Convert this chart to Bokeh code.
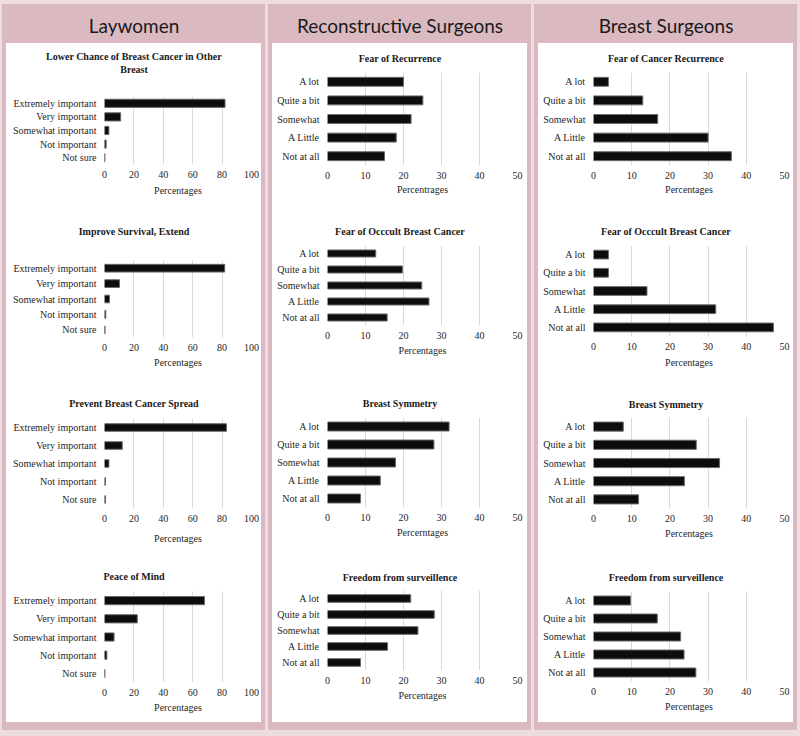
from bokeh.plotting import figure
from bokeh.layouts import row, column
from bokeh.models import FactorRange, Range1d, FixedTicker, Spacer, Title
from bokeh.embed import file_html
from bokeh.resources import INLINE

# ---------------- data ----------------
group_names = ["Laywomen", "Reconstructive Surgeons", "Breast Surgeons"]

lay_cats = ["Extremely important", "Very important", "Somewhat important", "Not important", "Not sure"]
surg_cats = ["A lot", "Quite a bit", "Somewhat", "A Little", "Not at all"]

lay_titles = ["Lower Chance of Breast Cancer in Other\nBreast", "Improve Survival, Extend",
              "Prevent Breast Cancer Spread", "Peace of Mind"]
rec_titles = ["Fear of Recurrence", "Fear of Occcult Breast Cancer", "Breast Symmetry",
              "Freedom from surveillence"]
bre_titles = ["Fear of Cancer Recurrence", "Fear of Occcult Breast Cancer", "Breast Symmetry",
              "Freedom from surveillence"]

lay_xlabels = ["Percentages", "Percentages", "Percentages", "Percentages"]
rec_xlabels = ["Percentrages", "Percentages", "Percerntages", "Percentages"]
bre_xlabels = ["Percentages", "Percentages", "Percentages", "Percentages"]

lay_lower_chance = [82, 11, 3, 1.1, 0.3]
lay_survival = [81.8, 10.2, 3.4, 0.9, 0.4]
lay_spread = [83, 12.1, 3, 0.7, 0.7]
lay_peace = [68, 22.3, 6.5, 1.6, 0.3]

rec_recurrence = [20, 25.1, 22, 18.1, 15]
rec_occult = [12.7, 19.7, 24.8, 26.7, 15.7]
rec_symmetry = [32, 28, 17.9, 13.9, 8.7]
rec_surveillance = [21.9, 28.1, 23.8, 15.8, 8.7]

bre_recurrence = [3.9, 12.9, 16.8, 30, 36.1]
bre_occult = [3.9, 3.9, 14, 32, 47.1]
bre_symmetry = [7.8, 26.9, 33, 23.8, 11.8]
bre_surveillance = [9.7, 16.7, 22.8, 23.7, 26.8]

lay_ticks = [0, 20, 40, 60, 80, 100]
surg_ticks = [0, 10, 20, 30, 40, 50]

# ---------------- styling / layout ----------------
PINK = "#dbb9c1"
LIGHT = "#eddde1"
BAR = "#0d0d0d"
BAR_EDGE = "#6a6a6a"
GRID = "#d9d9d9"
TXT = "#262626"
SERIF = "Liberation Serif"

TOP_PAD = 4
bounds = [43, 215, 388, 560, 722]   # panel boundaries (page px)
BOTTOM_PINK = 8
TOTAL_H = 736

frames = {
    0: [(96, 164), (260, 337), (418, 508), (591, 682)],
    1: [(72, 165), (245, 325), (417, 507), (590, 670)],
    2: [(72, 165), (245, 336), (417, 508), (591, 681)],
}
title_y = {
    0: [69, 231, 403, 576],
    1: [58, 231, 403, 577],
    2: [58, 231, 404, 577],
}
label_standoff = {0: [4, 3, 8, 3], 1: [2, 3, 3, 3], 2: [2, 4, 3, 3]}
bar_h = {0: [0.6, 0.5, 0.42, 0.45], 1: [0.48, 0.44, 0.5, 0.48], 2: [0.48, 0.48, 0.5, 0.5]}

COLW = 263
PAD = 4
FIGW = COLW - 2 * PAD
HEADER_H = bounds[0] - TOP_PAD


def no_align(fig):
    if "frame_align" in fig.properties():
        fig.frame_align = False
    return fig


def make_title_fig(text, height):
    t = figure(width=FIGW, height=height, x_range=Range1d(0, 1), y_range=Range1d(0, 1),
               output_backend="svg", toolbar_location=None, title_location=None,
               min_border_left=0, min_border_right=0, min_border_top=height - 1,
               min_border_bottom=0)
    no_align(t)
    t.axis.visible = False
    t.grid.visible = False
    t.outline_line_color = None
    t.background_fill_color = "white"
    t.border_fill_color = "white"
    for line in reversed(text.split("\n")):
        tt = Title(text=line, align="center", text_font=SERIF, text_font_size="10px",
                   text_font_style="bold", text_color="#1a1a1a")
        if "standoff" in tt.properties():
            tt.standoff = 0
        t.add_layout(tt, "above")
    return t


def make_panel(ci, pi, cats, vals, title, xlabel, xmax, ticks, ml, mr):
    top_b, bot_b = bounds[pi], bounds[pi + 1]
    ft, fb = frames[ci][pi]
    t_h = title_y[ci][pi] + 6 - top_b
    tfig = make_title_fig(title, t_h)
    h = bot_b - top_b - t_h
    mt = max(0, ft - (top_b + t_h))
    mb = bot_b - fb
    p = figure(width=FIGW, height=h, y_range=FactorRange(factors=cats[::-1]),
               x_range=Range1d(0, xmax), output_backend="svg", toolbar_location=None,
               title_location=None,
               min_border_left=ml, min_border_right=mr, min_border_top=mt, min_border_bottom=mb)
    no_align(p)
    p.hbar(y=cats, right=vals, height=bar_h[ci][pi], fill_color=BAR, line_color=BAR_EDGE,
           line_width=1)
    p.outline_line_color = None
    p.background_fill_color = "white"
    p.border_fill_color = "white"
    p.xgrid.grid_line_color = GRID
    p.ygrid.grid_line_color = None
    p.xaxis.ticker = FixedTicker(ticks=ticks)
    for ax in (p.xaxis[0], p.yaxis[0]):
        ax.axis_line_color = None
        ax.major_tick_line_color = None
        ax.minor_tick_line_color = None
        ax.major_tick_out = 0
        ax.major_tick_in = 0
        ax.minor_tick_out = 0
        ax.major_label_text_font = SERIF
        ax.major_label_text_font_size = "10px"
        ax.major_label_text_color = TXT
    p.yaxis.major_label_standoff = 8
    p.xaxis.major_label_standoff = 6
    p.xaxis.axis_label = xlabel
    p.xaxis.axis_label_text_font = SERIF
    p.xaxis.axis_label_text_font_size = "10px"
    p.xaxis.axis_label_text_font_style = "normal"
    p.xaxis.axis_label_text_color = TXT
    p.xaxis.axis_label_standoff = label_standoff[ci][pi]
    return [tfig, p]


def make_header(name):
    h = figure(width=COLW, height=HEADER_H, x_range=Range1d(0, 1), y_range=Range1d(0, 1),
               output_backend="svg", toolbar_location=None,
               min_border_left=0, min_border_right=0, min_border_top=HEADER_H - 6,
               min_border_bottom=0)
    no_align(h)
    h.axis.visible = False
    h.grid.visible = False
    h.outline_line_color = None
    h.background_fill_color = PINK
    h.border_fill_color = PINK
    h.title.text = name
    h.title.align = "center"
    h.title.text_font = "Lato"
    h.title.text_font_size = "19px"
    h.title.text_font_style = "normal"
    h.title.text_color = "#1a1a1a"
    if "standoff" in h.title.properties():
        h.title.standoff = 1
    return h


def make_column(ci, name, cats, series, titles, xlabels, xmax, ticks, ml, mr):
    figs = []
    for i in range(4):
        figs += make_panel(ci, i, cats, series[i], titles[i], xlabels[i], xmax, ticks, ml, mr)
    body_h = bounds[-1] - bounds[0]
    inner = column(*figs, spacing=0, styles={"background-color": "white"})
    body = row(Spacer(width=PAD, height=body_h), inner,
               Spacer(width=PAD, height=body_h), spacing=0)
    return column(make_header(name), body, Spacer(width=COLW, height=BOTTOM_PINK), spacing=0,
                  styles={"background-color": PINK})


c1 = make_column(0, group_names[0], lay_cats,
                 [lay_lower_chance, lay_survival, lay_spread, lay_peace],
                 lay_titles, lay_xlabels, 100, lay_ticks, 98, 10)
c2 = make_column(1, group_names[1], surg_cats,
                 [rec_recurrence, rec_occult, rec_symmetry, rec_surveillance],
                 rec_titles, rec_xlabels, 50, surg_ticks, 55, 10)
c3 = make_column(2, group_names[2], surg_cats,
                 [bre_recurrence, bre_occult, bre_symmetry, bre_surveillance],
                 bre_titles, bre_xlabels, 50, surg_ticks, 55, 9)

GAP = 3
LEFT = 2
RIGHT = 800 - LEFT - 3 * COLW - 2 * GAP
layout = column(
    Spacer(width=800, height=TOP_PAD),
    row(Spacer(width=LEFT, height=10), c1, Spacer(width=GAP, height=10), c2,
        Spacer(width=GAP, height=10), c3, Spacer(width=RIGHT, height=10), spacing=0),
    Spacer(width=800, height=TOTAL_H - bounds[-1] - BOTTOM_PINK),
    spacing=0, styles={"background-color": LIGHT})

open("out.html", "w").write(file_html(layout, INLINE))
